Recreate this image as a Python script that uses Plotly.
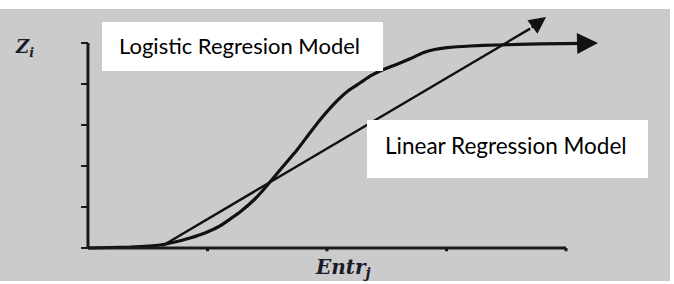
import plotly.graph_objects as go

# ---- data (axis units) ----
logistic_x = [0.0, 0.351, 0.603, 0.728, 0.854, 0.979, 1.105, 1.272, 1.397, 1.481, 1.607,
              1.749, 1.850, 1.941, 2.092, 2.180, 2.276, 2.360, 2.444, 2.530, 2.611, 2.700,
              2.803, 2.900, 3.004, 3.197, 3.423, 3.782, 4.15]
logistic_y = [0.0, 0.024, 0.073, 0.146, 0.244, 0.366, 0.537, 0.878, 1.195, 1.463, 1.902,
              2.390, 2.780, 3.122, 3.610, 3.840, 4.024, 4.190, 4.317, 4.420, 4.512, 4.620,
              4.760, 4.840, 4.885, 4.927, 4.951, 4.976, 4.99]
logistic_tip = (4.268, 5.0)

linear_x = [0.62, 3.70]
linear_y = [0.05, 5.35]
linear_tip = (3.833, 5.634)

x_ticks = [0, 1, 2, 3, 4]
y_ticks = [0, 1, 2, 3, 4, 5]

labels = ["Logistic Regresion Model", "Linear Regression Model"]
x_title = "<b><i>Entr<sub>j</sub></i></b>"
y_title = "<b><i>Z<sub>i</sub></i></b>"

# ---- figure ----
W, H = 674, 284
ml, mr, mt, mb = 0, 4, 9, 3
pw, ph = W - ml - mr, H - mt - mb
XR = [-0.736, 4.870]
YR = [-0.805, 5.829]

def px2paper(px, py):
    return (px - ml) / pw, (H - mb - py) / ph

fig = go.Figure()
fig.add_trace(go.Scatter(x=logistic_x, y=logistic_y, mode="lines",
                         line=dict(color="#111111", width=3.2, shape="spline", smoothing=0.3),
                         hoverinfo="skip", showlegend=False))
fig.add_trace(go.Scatter(x=linear_x, y=linear_y, mode="lines",
                         line=dict(color="#111111", width=2.4),
                         hoverinfo="skip", showlegend=False))

shapes = []
axc = "#1a1a1a"
# axes
shapes.append(dict(type="line", xref="x", yref="y", x0=0, y0=0, x1=0, y1=y_ticks[-1],
                   line=dict(color=axc, width=3)))
shapes.append(dict(type="line", xref="x", yref="y", x0=0, y0=0, x1=x_ticks[-1], y1=0,
                   line=dict(color=axc, width=3)))
for yt in y_ticks:
    shapes.append(dict(type="line", xref="x", yref="y", x0=-0.058, y0=yt, x1=0, y1=yt,
                       line=dict(color=axc, width=2)))
for xt in x_ticks[1:]:
    shapes.append(dict(type="line", xref="x", yref="y", x0=xt, y0=0, x1=xt, y1=-0.08,
                       line=dict(color=axc, width=3)))

# white label boxes
x0, y1 = px2paper(102, 22); x1, y0 = px2paper(383, 71)
shapes.append(dict(type="rect", xref="paper", yref="paper", x0=x0, x1=x1, y0=y0, y1=y1,
                   fillcolor="white", line=dict(width=0), layer="above"))
bx0, by1 = px2paper(367, 120); bx1, by0 = px2paper(648, 178)
shapes.append(dict(type="rect", xref="paper", yref="paper", x0=bx0, x1=bx1, y0=by0, y1=by1,
                   fillcolor="white", line=dict(width=0), layer="above"))

annotations = []
# arrowheads
annotations.append(dict(x=logistic_tip[0], y=logistic_tip[1], ax=logistic_x[-1], ay=logistic_y[-1],
                        xref="x", yref="y", axref="x", ayref="y", text="", showarrow=True,
                        arrowhead=2, arrowsize=1.4, arrowwidth=3, arrowcolor="#111111"))
annotations.append(dict(x=linear_tip[0], y=linear_tip[1], ax=linear_x[-1], ay=linear_y[-1],
                        xref="x", yref="y", axref="x", ayref="y", text="", showarrow=True,
                        arrowhead=2, arrowsize=1.3, arrowwidth=2.6, arrowcolor="#111111"))
# label texts
tx, ty = px2paper(117, 46)
annotations.append(dict(x=tx, y=ty, xref="paper", yref="paper", text=labels[0], showarrow=False,
                        xanchor="left", yanchor="middle",
                        font=dict(family="Lato", size=22, color="#000000")))
tx, ty = px2paper(383, 145)
annotations.append(dict(x=tx, y=ty, xref="paper", yref="paper", text=labels[1], showarrow=False,
                        xanchor="left", yanchor="middle",
                        font=dict(family="Lato", size=22.5, color="#000000")))
# axis titles
tx, ty = px2paper(24, 48)
annotations.append(dict(x=tx, y=ty, xref="paper", yref="paper", text=y_title, showarrow=False,
                        xanchor="center", yanchor="middle",
                        font=dict(family="DejaVu Serif", size=18, color="#1a1a2a")))
tx, ty = px2paper(343, 268)
annotations.append(dict(x=tx, y=ty, xref="paper", yref="paper", text=x_title, showarrow=False,
                        xanchor="center", yanchor="middle",
                        font=dict(family="DejaVu Serif", size=20, color="#1a1a2a")))

fig.update_layout(
    width=W, height=H, margin=dict(l=ml, r=mr, t=mt, b=mb),
    paper_bgcolor="white", plot_bgcolor="#cbcbcb",
    xaxis=dict(range=XR, visible=False, fixedrange=True),
    yaxis=dict(range=YR, visible=False, fixedrange=True),
    shapes=shapes, annotations=annotations, showlegend=False,
)
fig.write_html("out.html")
